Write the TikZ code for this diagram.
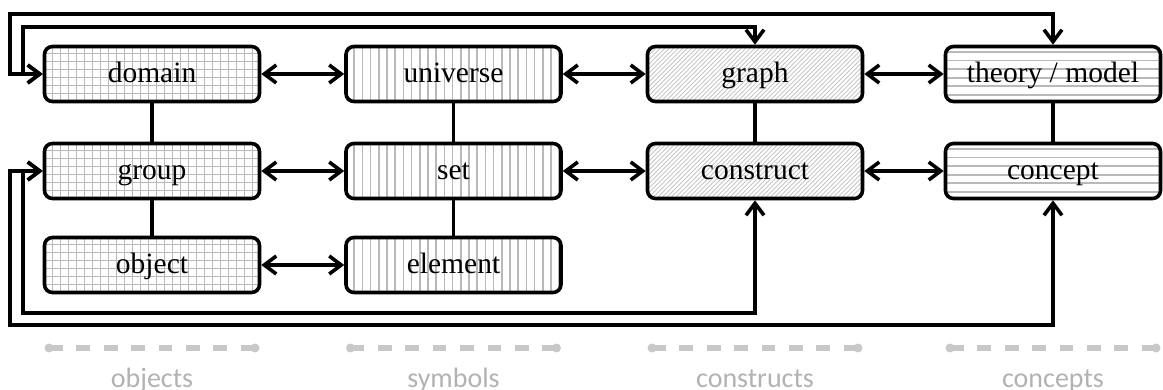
\documentclass[tikz,border=0pt]{standalone}
\usepackage{fontspec}
\setmainfont{Liberation Serif}
\newfontfamily\legendfont{Carlito}
\usetikzlibrary{arrows.meta}
\definecolor{hatchc}{RGB}{185,185,185}
\definecolor{diagc}{RGB}{200,200,200}
\definecolor{legendline}{RGB}{200,200,200}
\definecolor{legendtext}{RGB}{178,178,178}

\tikzset{
  box/.style={draw, line width=3.6pt, rounded corners=8pt, fill=white,
    minimum width=215pt, minimum height=55pt, inner sep=0pt,
    text height=20pt, text depth=3pt, font=\fontsize{29.5}{32}\selectfont},
  gridfill/.style={path picture={
    \foreach \k in {1,...,27}
      \draw[hatchc, line width=1.7pt]
        ([xshift=\k*8pt]path picture bounding box.south west) --
        ([xshift=\k*8pt]path picture bounding box.north west);
    \foreach \k in {1,...,7}
      \draw[hatchc, line width=1.7pt]
        ([yshift=\k*8pt]path picture bounding box.south west) --
        ([yshift=\k*8pt]path picture bounding box.south east);
  }},
  vlines/.style={path picture={
    \foreach \k in {1,...,27}
      \draw[hatchc, line width=1.7pt]
        ([xshift=\k*8.2pt]path picture bounding box.south west) --
        ([xshift=\k*8.2pt]path picture bounding box.north west);
  }},
  hlines/.style={path picture={
    \foreach \k in {1,...,6}
      \draw[hatchc, line width=1.7pt]
        ([yshift=\k*8.6pt-2pt]path picture bounding box.south west) --
        ([yshift=\k*8.6pt-2pt]path picture bounding box.south east);
  }},
  dlines/.style={path picture={
    \foreach \k in {-15,...,50}
      \draw[diagc, line width=0.9pt]
        ([xshift=\k*4.5pt]path picture bounding box.south west) -- ++(70pt,70pt);
  }},
  conn/.style={line width=3.6pt, line join=miter},
  barb/.tip={Straight Barb[length=12pt,width=18pt]},
  biarr/.style={conn, barb-barb},
  ldot/.style={circle, fill=legendline, minimum size=9pt, inner sep=0pt},
  lline/.style={legendline, line width=5pt, dash pattern=on 13.7pt off 13.7pt},
  ltext/.style={text=legendtext, anchor=base, font=\legendfont\fontsize{28}{30}\selectfont}
}

\begin{document}
\begin{tikzpicture}[x=1pt, y=-1pt]
\useasboundingbox (0,0) rectangle (1163,390);

% column of objects
\node[box, gridfill] (domain) at (152,74)  {domain};
\node[box, gridfill] (group)  at (152,171) {group};
\node[box, gridfill] (object) at (152,265) {object};
% column of symbols
\node[box, vlines] (universe) at (453.5,74)  {universe};
\node[box, vlines] (set)      at (453.5,171) {set};
\node[box, vlines] (element)  at (453.5,265) {element};
% column of constructs
\node[box, dlines] (graph)     at (755,74)  {graph};
\node[box, dlines] (construct) at (755,171) {construct};
% column of concepts
\node[box, hlines] (theory)  at (1053,74)  {theory / model};
\node[box, hlines] (concept) at (1053,171) {concept};

% vertical links inside each column
\draw[conn] (domain) -- (group);
\draw[conn] (group) -- (object);
\draw[conn] (universe) -- (set);
\draw[conn] (set) -- (element);
\draw[conn] (graph) -- (construct);
\draw[conn] (theory) -- (concept);

% horizontal correspondences
\draw[biarr] (domain) -- (universe);
\draw[biarr] (universe) -- (graph);
\draw[biarr] (graph) -- (theory);
\draw[biarr] (group) -- (set);
\draw[biarr] (set) -- (construct);
\draw[biarr] (construct) -- (concept);
\draw[biarr] (object) -- (element);

% long loops along the top and bottom
\draw[biarr] (domain.west) -| (23,27) -| (graph.north);
\draw[biarr] (domain.west) -| (10,14) -| (theory.north);
\draw[biarr] (group.west) -| (23,313) -| (construct.south);
\draw[biarr] (group.west) -| (10,325) -| (concept.south);

% legend
\foreach \c/\t/\n in {152/objects/a, 453.5/symbols/b, 755/constructs/c, 1053/concepts/d} {
  \node[ldot] (\n l) at (\c-103,348) {};
  \node[ldot] (\n r) at (\c+103,348) {};
  \draw[lline] (\n l.center) -- (\n r.center);
  \node[ltext] (\n t) at (\c,388) {\t};
}
\end{tikzpicture}
\end{document}
